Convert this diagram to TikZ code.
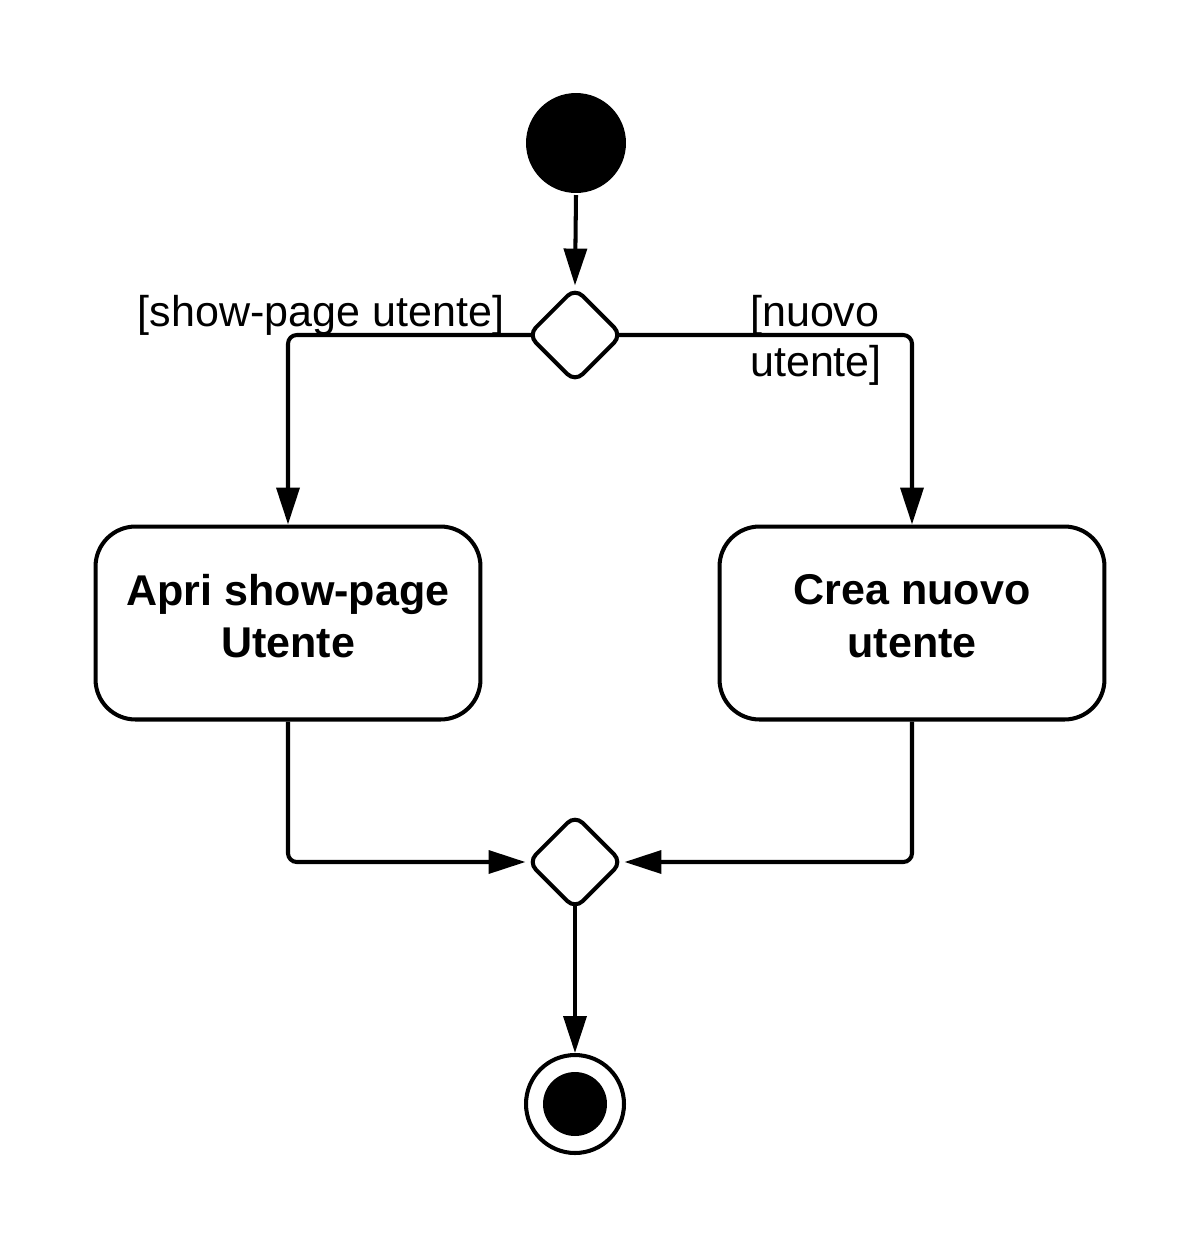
\documentclass[tikz,border=0pt]{standalone}
\usepackage{fontspec}
\setmainfont{Liberation Sans}
\usetikzlibrary{shapes.geometric,arrows.meta}
\begin{document}
\begin{tikzpicture}[x=0.02cm,y=-0.02cm,
  line width=2.3pt,
  flow/.style={-{Triangle[length=21pt,width=13pt]}, rounded corners=5pt},
  decision/.style={diamond,draw,fill=white,minimum width=1.9cm,minimum height=1.9cm,inner sep=0pt,rounded corners=6pt},
  action/.style={rectangle,draw,rounded corners=0.8cm,minimum width=7.7cm,minimum height=3.86cm,text depth=0.28cm,align=center,font=\fontsize{24.5}{30}\selectfont\bfseries},
  guard/.style={font=\fontsize{24.5}{28.5}\selectfont,inner sep=0pt}]
\useasboundingbox (0,0) rectangle (1200,1248);
\node[circle,fill,minimum size=2cm,inner sep=0pt] (start) at (576,143) {};
\node[decision] (d1) at (575,335) {};
\node[action] (b1) at (288,623) {Apri show-page\\Utente};
\node[action] (b2) at (912,623) {Crea nuovo\\utente};
\node[decision] (d2) at (575,862) {};
\node[circle,draw,minimum size=1.96cm,inner sep=0pt] (end) at (575,1104) {};
\node[circle,fill,minimum size=1.28cm,inner sep=0pt] (endin) at (end.center) {};
\node[guard] (l1) at (321,315) {[show-page utente]};
\node[guard,align=left] (l2) at (816,340) {[nuovo\\utente]};
\draw[flow] (start.south) -- (d1.north);
\draw[flow] ([xshift=4pt]d1.west) -| (b1.north);
\draw[flow] ([xshift=-4pt]d1.east) -| (b2.north);
\draw[flow] (b1.south) |- (d2.west);
\draw[flow] (b2.south) |- (d2.east);
\draw[flow] ([yshift=4pt]d2.south) -- (end.north);
\end{tikzpicture}
\end{document}
